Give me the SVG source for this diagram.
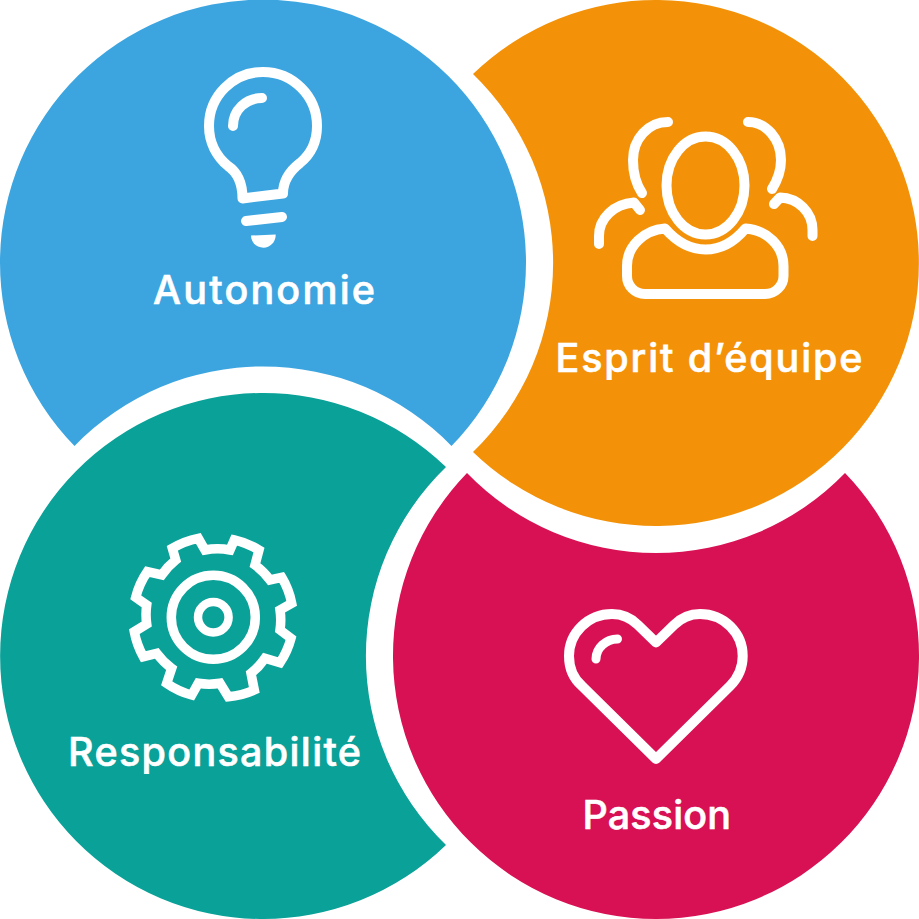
<svg xmlns="http://www.w3.org/2000/svg" width="919" height="919" viewBox="0 0 919 919">
<style>
.ic{fill:none;stroke:#fff;stroke-width:10;stroke-linecap:round;stroke-linejoin:round}
.lb{font-family:"Inter","Noto Sans",sans-serif;font-size:39.500px;font-weight:500;fill:#fff;stroke:#fff;stroke-width:.6px}
</style>
<rect width="919" height="919" fill="#fff"/>
<g id="autonomie">
<path fill="#3ca5e0" d="M74.500 446A263 263 0 1 1 451.500 446A263 263 0 0 0 74.500 446Z"/>
<path class="ic" d="M242.500 198.500L283 193.500C283 180 291 170 300 163C311 154 317 141 317 126A54 54 0 0 0 209 126C209 143 217 157 228 166C237 172 242.500 182 242.500 198.500Z"/>
<path class="ic" d="M233 126C233 110 246 98 262 98"/>
<path class="ic" d="M246 221L282 217"/>
<path fill="#fff" d="M251 235.500L275.700 234.500C276 242 270 247.700 263.500 247.700C256 247.700 251 242 251 235.500Z"/>
<text class="lb" x="153" y="304" textLength="222">Autonomie</text>
</g>
<g id="esprit">
<path fill="#f39208" d="M473 74A263 263 0 1 1 473 452A263 263 0 0 0 473 74Z"/>
<ellipse class="ic" cx="705.500" cy="185.500" rx="39" ry="49"/>
<path class="ic" d="M665 228.500C676 241 690 249.500 705.500 249.500C721 249.500 735 241 745.500 228.500C767 230 783.500 246 783.500 266V276C783.500 286 775 294 765 294H645C635 294 627 286 627 276V266C627 246 644 230 665 228.500Z"/>
<path class="ic" d="M668 122C648 122 633 139 633 160C633 172 636 184 642 193"/>
<path class="ic" d="M748 122C766 122 781 139 781 160C781 171 777 181 772 189"/>
<path class="ic" d="M599 244V236C599 218 614 204 634 202.500L640 210"/>
<path class="ic" d="M812.500 236V230C812.500 212 798 198 780 197.500L774 204"/>
<text class="lb" x="555.500" y="372" textLength="307">Esprit d’équipe</text>
</g>
<g id="responsabilite">
<path fill="#09a198" d="M446 467A263 263 0 1 0 446 845A263 263 0 0 1 446 467Z"/>
<path class="ic" style="stroke-width:9.500;stroke-linejoin:miter" d="M205 550A68 68 0 0 1 230 550L234.300 540A80 80 0 0 1 259 550L255 565A68 68 0 0 1 270 580L281.700 577.300A80 80 0 0 1 291.700 603.300L280 610A68 68 0 0 1 280 630L291 638.300A80 80 0 0 1 280 662.700L265 658.300A68 68 0 0 1 251 673.300L254.300 690A80 80 0 0 1 228.300 696.700L220 683.300A68 68 0 0 1 198.300 683.300L191.700 695A80 80 0 0 1 166.700 683.300L171.700 668.300A68 68 0 0 1 156.700 653.300L143.300 656.700A80 80 0 0 1 134.300 631.700L146.700 624A68 68 0 0 1 146.700 605L135.700 597.300A80 80 0 0 1 147.300 571.700L161.700 575A68 68 0 0 1 175.700 560L172.300 548.300A80 80 0 0 1 198.300 538.300Z"/>
<circle class="ic" style="stroke-width:9.500" cx="213.300" cy="617.300" r="42"/>
<circle class="ic" style="stroke-width:8.500" cx="213.300" cy="617.300" r="15.300"/>
<text class="lb" x="68" y="766" textLength="293">Responsabilité</text>
</g>
<g id="passion">
<path fill="#d81054" d="M467 473A263 263 0 1 0 845 473A263 263 0 0 1 467 473Z"/>
<path class="ic" d="M656 642.500L638 625C631 618 621.500 614 612 614C588 614 569 633 569 656C569 668 574 679 582 686L656 759L730 686C738 678 742.700 668 742.700 656C742.700 633 724 614 700 614C690 614 681 618 674 625Z"/>
<path class="ic" style="stroke-width:9" d="M596 659C596 648 606 639 617.500 639"/>
<text class="lb" x="582.500" y="829" textLength="148.500">Passion</text>
</g>
</svg>
